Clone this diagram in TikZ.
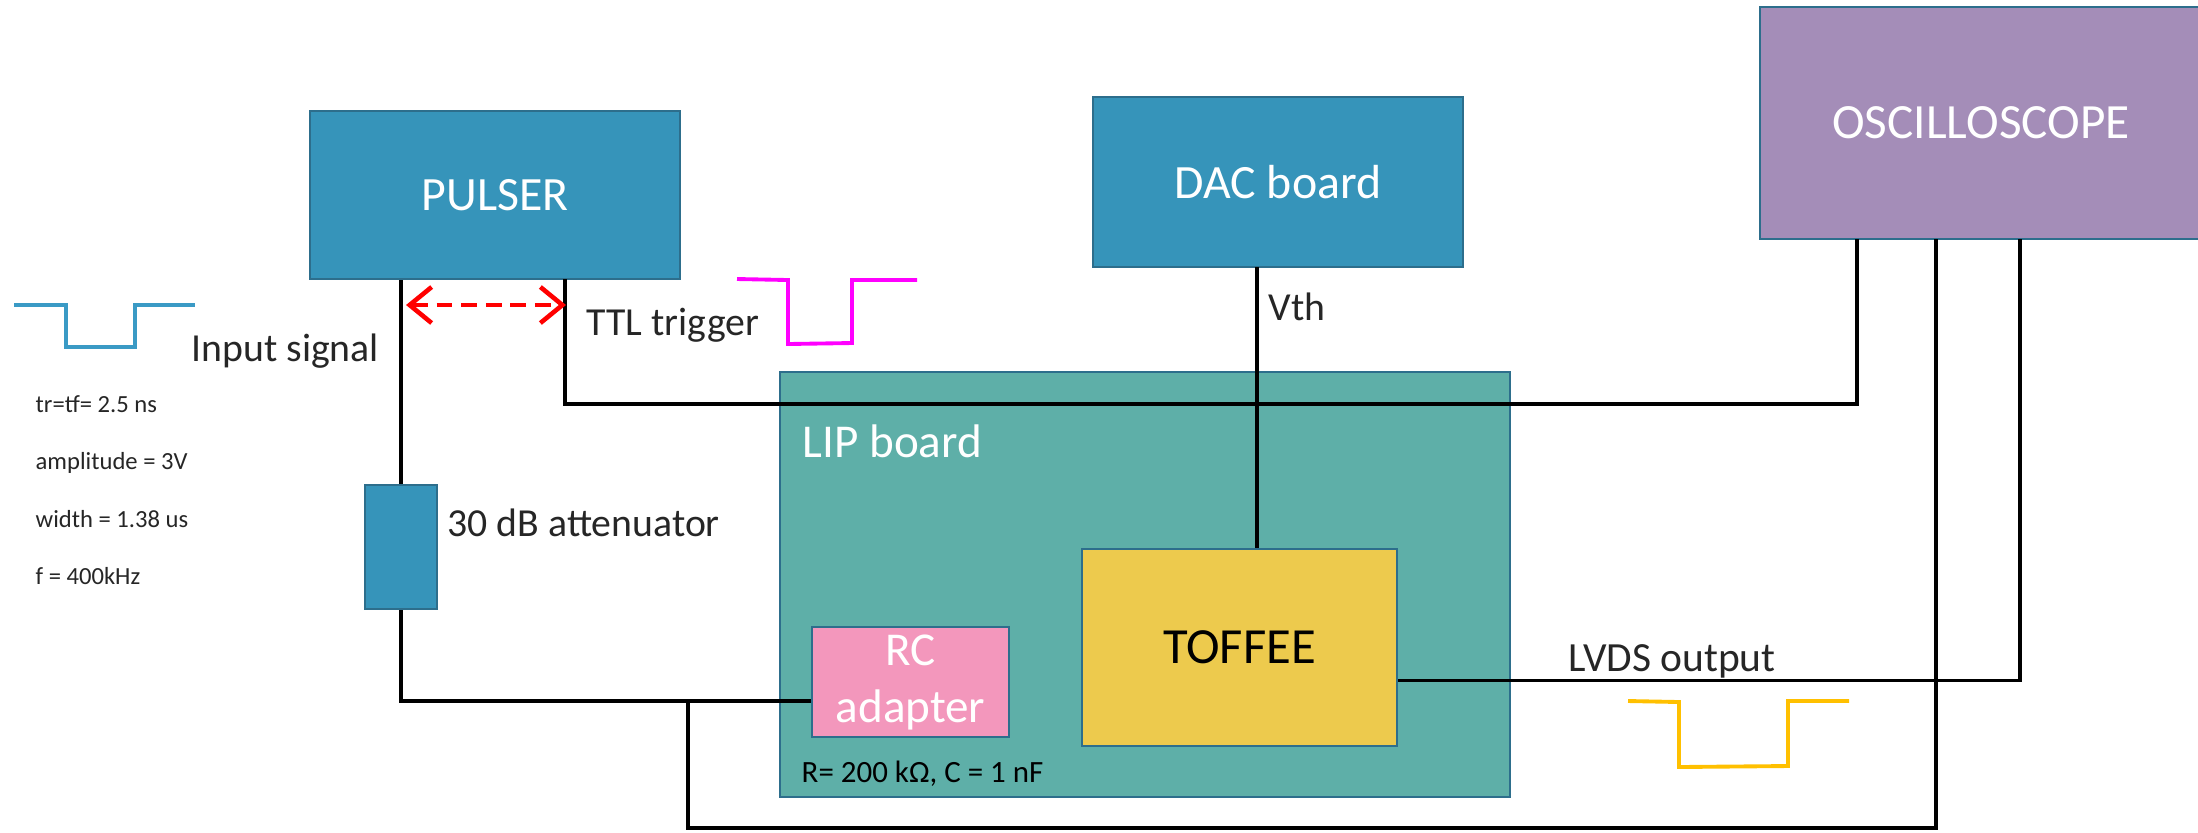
\documentclass[tikz,border=0pt]{standalone}
\usepackage{fontspec}
\setmainfont{Carlito}
\usetikzlibrary{positioning,arrows.meta,calc}
\definecolor{tbblue}{HTML}{3694BA}
\definecolor{tbedge}{HTML}{2D6E8C}
\definecolor{tbteal}{HTML}{5EAFA8}
\definecolor{tbyellow}{HTML}{EDCA4D}
\definecolor{tbpink}{HTML}{F397BC}
\definecolor{tbpurple}{HTML}{A48DB8}
\definecolor{tbtext}{HTML}{262626}
\definecolor{tbmagenta}{HTML}{FF00FF}
\definecolor{tbgold}{HTML}{FFC000}
\definecolor{tbsignal}{HTML}{3A9AC5}

\begin{document}
\begin{tikzpicture}[
  x=0.01cm, y=-0.01cm,
  box/.style={draw=tbedge, line width=0.6pt, inner sep=0pt, align=center},
  inst/.style={box, fill=tbblue, text=white, font=\fontsize{13.6}{16}\selectfont},
  board/.style={box, fill=tbteal},
  chip/.style={box, fill=tbyellow, text=black, font=\fontsize{14.4}{17}\selectfont},
  adapt/.style={box, fill=tbpink, text=white, font=\fontsize{13.4}{16.2}\selectfont},
  scope/.style={box, fill=tbpurple, text=white, font=\fontsize{14}{17}\selectfont},
  wire/.style={line width=1.1pt, draw=black},
  pulse/.style={line width=1.1pt},
  sync/.style={{Straight Barb[length=2.2mm,width=3.6mm]}-{Straight Barb[length=2.2mm,width=3.6mm]}, dashed, dash pattern=on 4.5pt off 2.5pt, line width=1.3pt, draw=red},
  lbl/.style={anchor=base west, inner sep=0pt, text=tbtext, font=\fontsize{11.3}{13}\selectfont},
  note/.style={lbl, font=\fontsize{7}{8}\selectfont}
]
\useasboundingbox (0,0) rectangle (2198,832);
% Instruments
\node[inst, minimum width=3.70cm, minimum height=1.68cm] (pulser) at (495,195) {PULSER};
\node[inst, minimum width=3.70cm, minimum height=1.70cm] (dac) at (1278,182) {DAC board};
\node[scope, minimum width=4.42cm, minimum height=2.32cm] (osc) at (1981,123) {OSCILLOSCOPE};
\node[inst, minimum width=0.72cm, minimum height=1.24cm] (att) at (401,547) {};
% LIP board and its parts
\node[board, minimum width=7.30cm, minimum height=4.25cm] (lip) at (1145,584.5) {};
\node[lbl, text=white, font=\fontsize{13.4}{16}\selectfont] (lipname) at (802,457) {LIP board};
\node[lbl, text=black, font=\fontsize{8.8}{10}\selectfont] (rcvalues) at (801,782) {R= 200 kΩ, C = 1 nF};
\node[chip, minimum width=3.15cm, minimum height=1.97cm] (toffee) at (1239.5,647.5) {TOFFEE};
\node[adapt, minimum width=1.97cm, minimum height=1.10cm] (rc) at (910.5,682) {RC\\adapter};
% Labels
\node[lbl] (inlbl) at (191,361) {Input signal};
\node[lbl] (ttllbl) at (586,335) {TTL trigger};
\node[lbl] (attlbl) at (447,536) {30 dB attenuator};
\node[lbl] (vthlbl) at (1268,320) {Vth};
\node[lbl, font=\fontsize{11.8}{14}\selectfont] (lvdslbl) at (1568,671) {LVDS output};
\node[note] (trtf) at (35,412) {tr=tf= 2.5 ns};
\node[note] (ampl) at (35,469) {amplitude = 3V};
\node[note] (wdth) at (35,527) {width = 1.38 us};
\node[note] (freq) at (35,584) {f = 400kHz};
% Tap points
\coordinate (trig) at (565,279);
\coordinate (ttl) at (565,404);
\coordinate (inbend) at (401,701);
\coordinate (tap) at (688,701);
\coordinate (vth) at (1257,267);
\coordinate (ch1) at (1857,239);
\coordinate (ch2) at (1936,239);
\coordinate (ch3) at (2020,239);
\coordinate (synca) at (406,305);
\coordinate (syncb) at (566,305);
% Wires
\draw[wire] (att.north |- pulser.south) -- (att.north);
\draw[wire] (att.south) -- (inbend) -- (inbend -| rc.west);
\draw[wire] (tap) -- (688,828) -| (ch2);
\draw[wire] (trig) -- (ttl) -| (ch1);
\draw[wire] (vth) -- (vth |- toffee.north);
\draw[wire] ($(rc.east)+(0,16)$) -- ($(rc.east)+(0,16)$ -| toffee.west);
\draw[wire] ($(toffee.east)+(0,33)$) -| (ch3);
\draw[sync] (synca) -- (syncb);
% Pulse shapes
\draw[pulse, tbsignal] (14,305) -- (66,305) -- (66,347) -- (135,347) -- (135,305) -- (195,305);
\draw[pulse, tbmagenta] (737,279) -- (788,280) -- (788,344) -- (852,343) -- (852,280) -- (917,280);
\draw[pulse, tbgold] (1628,701) -- (1679,702) -- (1679,767) -- (1788,766) -- (1788,701) -- (1849,701);
\end{tikzpicture}
\end{document}
